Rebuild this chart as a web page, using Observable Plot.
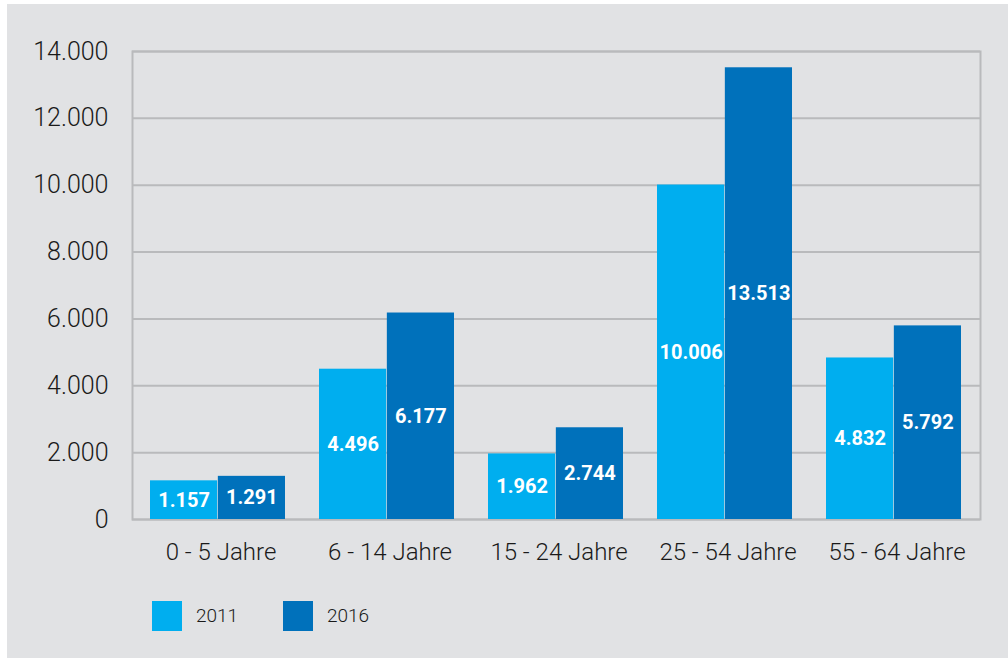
<!DOCTYPE html>
<html>
<head>
<meta charset="utf-8">
<script src="https://cdn.jsdelivr.net/npm/d3@7"></script>
<script src="https://cdn.jsdelivr.net/npm/@observablehq/plot@0.6"></script>
<style>
  html, body { margin: 0; padding: 0; background: #ffffff; }
  #wrap { position: absolute; left: 0; top: 0; width: 1008px; height: 658px; background: #ffffff; overflow: hidden; }
  #panel { position: absolute; left: 7px; top: 4px; width: 1001px; height: 654px; background: #e1e2e4; }
  #chart { position: absolute; left: 0; top: 0; }
  #legend { position: absolute; left: 0; top: 0; font-family: Roboto, "Liberation Sans", sans-serif; font-weight: 300; font-size: 19px; color: #1a1a1a; }
  .sw { position: absolute; width: 30px; height: 30px; }
  .lt { position: absolute; line-height: 30px; }
</style>
</head>
<body>
<div id="wrap">
  <div id="panel"></div>
  <div id="chart"></div>
  <div id="legend"></div>
</div>
<script>
const categories = ["0 - 5 Jahre", "6 - 14 Jahre", "15 - 24 Jahre", "25 - 54 Jahre", "55 - 64 Jahre"];
const years = ["2011", "2016"];
const values2011 = [1157, 4496, 1962, 10006, 4832];
const values2016 = [1291, 6177, 2744, 13513, 5792];
const yTicks = [0, 2000, 4000, 6000, 8000, 10000, 12000, 14000];
const colors = ["#00aeef", "#0071bb"];

const de = d3.formatLocale({decimal: ",", thousands: ".", grouping: [3], currency: ["", " €"]});
const fmt = de.format(",d");

const d2011 = categories.map((c, i) => ({cat: c, year: years[0], value: values2011[i]}));
const d2016 = categories.map((c, i) => ({cat: c, year: years[1], value: values2016[i]}));

const W = 1008, H = 590;
const marginLeft = 132, marginRight = 28, marginTop = 51, marginBottom = H - 519;
const pIn = 0.2, pOut = 0.1;
const step = (W - marginLeft - marginRight) / (categories.length - pIn + 2 * pOut);
const bw = step * (1 - pIn);
const half = bw / 2;

const chart = Plot.plot({
  width: W,
  height: H,
  marginLeft, marginRight, marginTop, marginBottom,
  style: {background: "transparent", fontFamily: "Roboto, 'Liberation Sans', sans-serif", color: "#1a1a1a"},
  x: {domain: categories, paddingInner: pIn, paddingOuter: pOut, label: null},
  y: {domain: [0, 14000], label: null},
  marks: [
    Plot.ruleY(yTicks, {stroke: "#b9babc", strokeWidth: 2}),
    Plot.frame({stroke: "#b9babc", strokeWidth: 2}),
    Plot.barY(d2011, {x: "cat", y: "value", fill: colors[0], insetRight: half}),
    Plot.barY(d2016, {x: "cat", y: "value", fill: colors[1], insetLeft: half}),
    Plot.text(d2011, {x: "cat", y: d => d.value / 2, text: d => fmt(d.value), dx: -half / 2, fill: "white", fontWeight: "bold", fontSize: 20}),
    Plot.text(d2016, {x: "cat", y: d => d.value / 2, text: d => fmt(d.value), dx: half / 2, fill: "white", fontWeight: "bold", fontSize: 20}),
    Plot.axisY({ticks: yTicks, tickFormat: fmt, tickSize: 0, tickPadding: 24, fontSize: 25, fontWeight: 300, fill: "#1a1a1a"}),
    Plot.axisX({tickSize: 0, tickPadding: 23, fontSize: 24, fontWeight: 300, fill: "#1a1a1a", dx: 3})
  ]
});
document.getElementById("chart").appendChild(chart);

const legend = document.getElementById("legend");
const legendX = [152, 283];
years.forEach((y, i) => {
  const sw = document.createElement("div");
  sw.className = "sw";
  sw.style.left = legendX[i] + "px";
  sw.style.top = "601px";
  sw.style.background = colors[i];
  legend.appendChild(sw);
  const t = document.createElement("div");
  t.className = "lt";
  t.style.left = (legendX[i] + 44) + "px";
  t.style.top = "601px";
  t.textContent = y;
  legend.appendChild(t);
});
</script>
</body>
</html>
